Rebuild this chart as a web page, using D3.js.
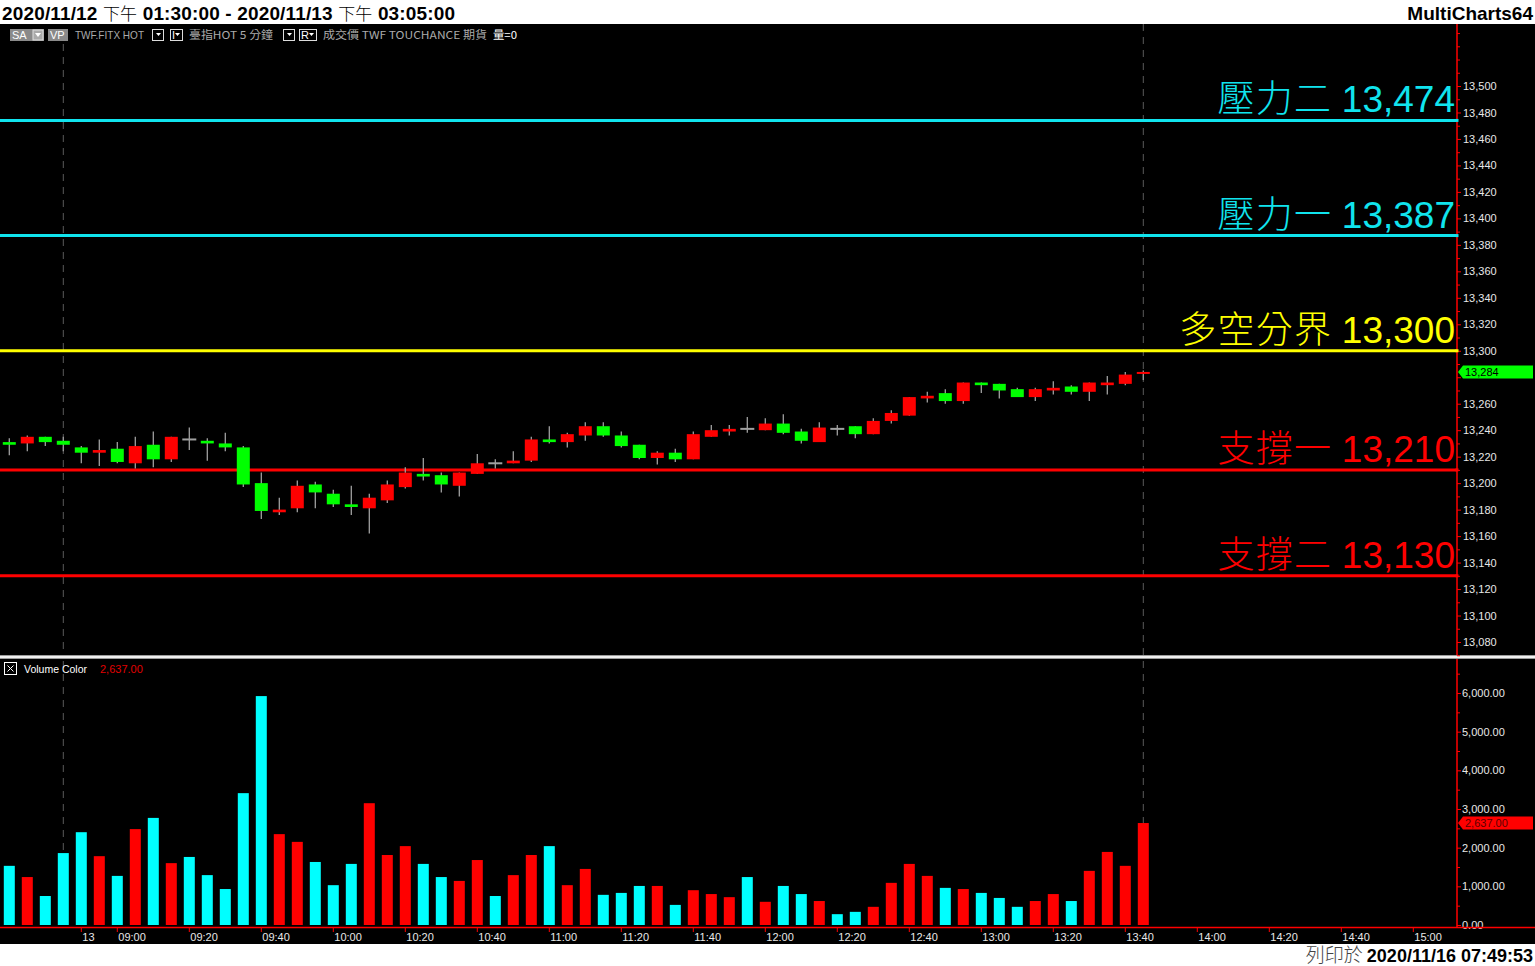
<!DOCTYPE html>
<html><head><meta charset="utf-8">
<script src="https://cdn.jsdelivr.net/npm/d3@7"></script>
<style>html,body{margin:0;padding:0;background:#fff;overflow:hidden}svg{display:block}</style>
</head><body>
<script>
// ---------------- DATA ----------------
const times = ["13:30","13:35","13:40","13:45",
 "08:50","08:55","09:00","09:05","09:10","09:15","09:20","09:25","09:30","09:35","09:40","09:45","09:50","09:55",
 "10:00","10:05","10:10","10:15","10:20","10:25","10:30","10:35","10:40","10:45","10:50","10:55",
 "11:00","11:05","11:10","11:15","11:20","11:25","11:30","11:35","11:40","11:45","11:50","11:55",
 "12:00","12:05","12:10","12:15","12:20","12:25","12:30","12:35","12:40","12:45","12:50","12:55",
 "13:00","13:05","13:10","13:15","13:20","13:25","13:30","13:35","13:40","13:45"];
const opens  = [13231,13230,13235,13232,13227,13223,13226,13215,13229,13218,13233,13232,13230,13227,13200,13178,13181,13199,13192,13184,13181,13187,13197,13207,13206,13198,13207,13215,13215,13217,13233,13231,13236,13243,13236,13229,13219,13223,13218,13235,13239,13241,13240,13245,13239,13231,13241,13243,13237,13247,13251,13264,13268,13262,13276,13275,13271,13265,13270,13273,13269,13274,13275,13283];
const highs  = [13234,13236,13235,13235,13228,13233,13231,13235,13239,13235,13242,13234,13238,13228,13208,13189,13202,13201,13195,13198,13192,13202,13212,13219,13208,13208,13222,13218,13224,13235,13243,13238,13246,13246,13239,13229,13224,13226,13239,13244,13244,13250,13249,13252,13241,13246,13244,13243,13249,13255,13265,13269,13271,13276,13276,13275,13272,13272,13277,13274,13276,13281,13284,13285];
const lows   = [13221,13224,13228,13224,13215,13213,13215,13211,13212,13216,13225,13217,13224,13197,13173,13176,13178,13181,13182,13176,13162,13185,13196,13202,13193,13190,13207,13211,13215,13216,13230,13227,13232,13235,13227,13218,13214,13216,13218,13235,13236,13238,13240,13237,13230,13231,13236,13234,13237,13245,13251,13261,13260,13260,13268,13264,13265,13262,13267,13267,13262,13267,13274,13278];
const closes = [13229,13235,13231,13229,13223,13225,13216,13228,13218,13235,13233,13230,13227,13199,13179,13180,13198,13193,13184,13182,13189,13199,13208,13205,13199,13208,13215,13215,13217,13233,13231,13237,13243,13236,13228,13219,13223,13218,13237,13240,13241,13241,13245,13238,13232,13242,13241,13237,13247,13253,13265,13266,13262,13276,13274,13270,13265,13271,13272,13269,13276,13276,13282,13284];
const volumes = [1530,1240,750,1860,2400,1780,1270,2480,2770,1600,1760,1290,930,3410,5920,2350,2150,1630,1030,1580,3150,1810,2040,1580,1240,1140,1680,750,1290,1810,2040,1030,1450,780,830,1010,1010,520,900,800,720,1240,600,1010,800,620,280,340,470,1090,1580,1270,960,930,830,700,470,620,800,620,1400,1890,1530,2637];
const levelNames  = ["壓力二","壓力一","多空分界","支撐一","支撐二"];
const levelValues = [13474,13387,13300,13210,13130];
const levelColors = ["#10e4ee","#10e4ee","#ffff00","#ff0000","#ff0000"];
const timeTickLabels = ["13","09:00","09:20","09:40","10:00","10:20","10:40","11:00","11:20","11:40","12:00","12:20","12:40","13:00","13:20","13:40","14:00","14:20","14:40","15:00"];
const timeTickTimes  = ["08:50","09:00","09:20","09:40","10:00","10:20","10:40","11:00","11:20","11:40","12:00","12:20","12:40","13:00","13:20","13:40","14:00","14:20","14:40","15:00"];
const priceTickValues = d3.range(13080, 13501, 20);
const volumeTickValues = [0,1000,2000,3000,4000,5000,6000];
const titleParts = [["2020/11/12 ",1],["下午",0],[" 01:30:00 - 2020/11/13 ",1],["下午",0],[" 03:05:00",1]];
const printedParts = [["列印於 ",0],["2020/11/16 07:49:53",1]];

// ---------------- LAYOUT ----------------
const W = 1535, H = 966;
const axisX = 1457;
const svg = d3.select("body").append("svg").attr("width", W).attr("height", H);
const LAT = "'Liberation Sans', Arial, sans-serif";
const CJK = "'Noto Sans CJK TC', 'Noto Sans CJK SC', sans-serif";

svg.append("rect").attr("x",0).attr("y",0).attr("width",W).attr("height",H).attr("fill","#fff");
svg.append("rect").attr("x",0).attr("y",24).attr("width",W).attr("height",920).attr("fill","#000");

// scales
const x = d3.scaleLinear().domain([0, 1]).range([9.3, 27.3]);
const y = d3.scaleLinear().domain([13080, 13500]).range([642, 86]);
const yv = d3.scaleLinear().domain([0, 6000]).range([925, 693]);
const toMin = t => { const [h, m] = t.split(":").map(Number); return h*60+m; };
const baseIdx = times.indexOf("08:50", 4);
const slotOf = t => baseIdx + (toMin(t) - toMin("08:50"))/5;

// title
const title = svg.append("text").attr("x",2).attr("y",20).attr("font-size",19).attr("fill","#000")
  .attr("textLength",453).attr("lengthAdjust","spacing");
titleParts.forEach(([s,b]) => title.append("tspan").text(s)
  .attr("font-family", b ? LAT : CJK).attr("font-weight", b ? "bold" : 300).attr("font-size", b ? 19 : 17));
svg.append("text").attr("x",1533).attr("y",20).attr("text-anchor","end").attr("font-size",19)
  .attr("font-family",LAT).attr("font-weight","bold").attr("fill","#000").text("MultiCharts64");
const printed = svg.append("text").attr("x",1533).attr("y",962).attr("text-anchor","end").attr("font-size",19).attr("fill","#000");
printedParts.forEach(([s,b]) => printed.append("tspan").text(s)
  .attr("font-family", b ? LAT : CJK).attr("font-weight", b ? "bold" : 300).attr("fill", b ? "#000" : "#444")
  .attr("font-size", b ? 18 : 19));

// toolbar
const tb = svg.append("g").attr("font-size",11).attr("font-family",LAT);
function grayBox(x0, w, label, arrow){
  tb.append("rect").attr("x",x0).attr("y",29).attr("width",w).attr("height",12).attr("fill","#8a8a8a");
  tb.append("text").attr("x",x0+2).attr("y",39).attr("fill","#fff").text(label);
  if (arrow){ tb.append("rect").attr("x",x0+w-11).attr("y",30).attr("width",10).attr("height",10).attr("fill","#aaa").attr("stroke","#ddd");
    tb.append("path").attr("d",`M${x0+w-9},33 L${x0+w-3},33 L${x0+w-6},37Z`).attr("fill","#fff"); }
}
function outBox(x0, w, label){
  tb.append("rect").attr("x",x0+0.5).attr("y",29.5).attr("width",w).attr("height",11).attr("fill","#000").attr("stroke","#ddd");
  if (label) tb.append("text").attr("x",x0+2).attr("y",39).attr("fill","#fff").text(label);
  tb.append("path").attr("d",`M${x0+w-7},33 L${x0+w-2},33 L${x0+w-4.5},36Z`).attr("fill","#fff");
}
function tbText(x0, w, s, col, fam){
  tb.append("text").attr("x",x0).attr("y",39).attr("fill",col).attr("font-family",fam||LAT)
    .attr("textLength",w).attr("lengthAdjust","spacingAndGlyphs").text(s);
}
grayBox(10, 34, "SA", true);
grayBox(48, 20, "VP", false);
tbText(75, 69, "TWF.FITX HOT", "#aaa");
outBox(152, 11, "");
outBox(170, 12, "I");
tbText(189, 84, "臺指HOT  5 分鐘", "#aaa", CJK);
outBox(283, 11, "");
outBox(299, 17, "R");
tbText(323, 164, "成交價  TWF  TOUCHANCE  期貨", "#aaa", CJK);
tbText(493, 24, "量=0", "#fff", CJK);

// dashed vertical separators
[[3,44],[63,24]].forEach(([i,top]) => {
  svg.append("line").attr("x1",x(i)).attr("x2",x(i)).attr("y1",top).attr("y2",655)
    .attr("stroke","#5a5a5a").attr("stroke-dasharray","7,6");
  svg.append("line").attr("x1",x(i)).attr("x2",x(i)).attr("y1",661).attr("y2",925)
    .attr("stroke","#5a5a5a").attr("stroke-dasharray","7,6");
});

// level lines
levelValues.forEach((v,k) => {
  svg.append("line").attr("x1",0).attr("x2",axisX).attr("y1",y(v)).attr("y2",y(v))
    .attr("stroke",levelColors[k]).attr("stroke-width",3);
  const t = svg.append("text").attr("x",1455).attr("y",y(v)-8).attr("text-anchor","end")
    .attr("font-size",37).attr("fill",levelColors[k]);
  t.append("tspan").attr("font-family",CJK).attr("font-weight",300).attr("letter-spacing",1.3).text(levelNames[k]+" ");
  t.append("tspan").attr("font-family",LAT).text(d3.format(",")(v));
});

// candles
const idx = d3.range(times.length);
const cg = svg.append("g");
cg.selectAll("line.wick").data(idx).join("line")
  .attr("x1",i=>x(i)).attr("x2",i=>x(i)).attr("y1",i=>y(highs[i])).attr("y2",i=>y(lows[i]))
  .attr("stroke","#a0a0a0").attr("stroke-width",1.3);
cg.selectAll("rect.body").data(idx).join("rect")
  .attr("x",i=>x(i)-(closes[i]===opens[i]?7:6.5))
  .attr("width",i=>closes[i]===opens[i]?14:13)
  .attr("y",i=>Math.min(y(opens[i]),y(closes[i])) - (closes[i]===opens[i]?1:0))
  .attr("height",i=>Math.max(2, Math.abs(y(opens[i])-y(closes[i]))))
  .attr("fill",i=>closes[i]>opens[i]?"#ff0000":(closes[i]<opens[i]?"#00ff00":"#a0a0a0"));

// pane separator
svg.append("rect").attr("x",0).attr("y",655).attr("width",W).attr("height",4).attr("fill","#9a9a9a");
svg.append("rect").attr("x",0).attr("y",656).attr("width",W).attr("height",2).attr("fill","#f0f0f0");

// volume bars
svg.append("g").selectAll("rect").data(idx).join("rect")
  .attr("x",i=>x(i)-5.5).attr("width",11)
  .attr("y",i=>yv(volumes[i])).attr("height",i=>yv(0)-yv(volumes[i]))
  .attr("fill",i=>closes[i]>opens[i]?"#ff0000":"#00ffff");

// volume legend
svg.append("rect").attr("x",4.5).attr("y",662.5).attr("width",12).attr("height",12).attr("fill","none").attr("stroke","#fff");
svg.append("path").attr("d","M7.5,665.5 L13.5,671.5 M13.5,665.5 L7.5,671.5").attr("stroke","#fff");
svg.append("text").attr("x",24).attr("y",673).attr("font-size",11).attr("font-family",LAT).attr("fill","#fff")
  .attr("textLength",63).attr("lengthAdjust","spacingAndGlyphs").text("Volume Color");
svg.append("text").attr("x",100).attr("y",673).attr("font-size",11).attr("font-family",LAT).attr("fill","#e00000")
  .text(d3.format(",.2f")(volumes[volumes.length-1]));

// right axes
svg.append("line").attr("x1",axisX).attr("x2",axisX).attr("y1",24).attr("y2",655).attr("stroke","#ff0000").attr("stroke-width",1.5);
svg.append("line").attr("x1",axisX).attr("x2",axisX).attr("y1",659).attr("y2",928).attr("stroke","#ff0000").attr("stroke-width",1.5);

const lastC = closes[closes.length-1], lastV = volumes[volumes.length-1];
const pAxis = svg.append("g").attr("transform",`translate(${axisX},0)`)
  .call(d3.axisRight(y).tickValues(priceTickValues).tickSize(4).tickPadding(2).tickFormat(d3.format(",")));
pAxis.select(".domain").remove();
pAxis.selectAll(".tick line").attr("stroke","#ff0000");
pAxis.selectAll(".tick text").attr("fill","#e8e8e8").attr("font-size",11).attr("font-family",LAT)
  .attr("display", d => Math.abs(y(d)-y(lastC)) < 9 ? "none" : null);
const pMinor = svg.append("g").attr("transform",`translate(${axisX},0)`)
  .call(d3.axisRight(y).tickValues(d3.range(13070,13541,10).filter(v=>v%20!==0 || v>13500)).tickSize(3).tickFormat(""));
pMinor.select(".domain").remove();
pMinor.selectAll(".tick line").attr("stroke","#ff0000");

const vAxis = svg.append("g").attr("transform",`translate(${axisX},0)`)
  .call(d3.axisRight(yv).tickValues(volumeTickValues).tickSize(4).tickPadding(1).tickFormat(d3.format(",.2f")));
vAxis.select(".domain").remove();
vAxis.selectAll(".tick line").attr("stroke","#ff0000");
vAxis.selectAll(".tick text").attr("fill","#e8e8e8").attr("font-size",11).attr("font-family",LAT);
const vMinor = svg.append("g").attr("transform",`translate(${axisX},0)`)
  .call(d3.axisRight(yv).tickValues(d3.range(500,6600,1000)).tickSize(3).tickFormat(""));
vMinor.select(".domain").remove();
vMinor.selectAll(".tick line").attr("stroke","#ff0000");

// level markers on axis
levelValues.forEach((v,k)=> svg.append("rect").attr("x",axisX-1.5).attr("y",y(v)-1.5).attr("width",3).attr("height",3).attr("fill",levelColors[k]));

// last price / volume tags
function tag(yy, fill, txt, tcol){
  svg.append("path").attr("d",`M${axisX+1},${yy} L${axisX+6},${yy-6.5} L1533,${yy-6.5} L1533,${yy+6.5} L${axisX+6},${yy+6.5}Z`).attr("fill",fill);
  svg.append("text").attr("x",1465).attr("y",yy+4).attr("font-size",11).attr("font-family",LAT).attr("fill",tcol).text(txt);
}
tag(y(lastC), "#00ff00", d3.format(",")(lastC), "#000");
tag(yv(lastV), "#ff0000", d3.format(",.2f")(lastV), "#5a0000");

// time axis
svg.append("line").attr("x1",0).attr("x2",W).attr("y1",927.5).attr("y2",927.5).attr("stroke","#ff0000").attr("stroke-width",1.5);
const tg = svg.append("g");
timeTickTimes.forEach((t,k) => {
  const xx = x(slotOf(t));
  tg.append("line").attr("x1",xx).attr("x2",xx).attr("y1",928).attr("y2",932).attr("stroke","#ff0000");
  tg.append("text").attr("x",xx+1).attr("y",941).attr("font-size",11).attr("font-family",LAT).attr("fill","#e8e8e8").text(timeTickLabels[k]);
});
</script>
</body></html>
